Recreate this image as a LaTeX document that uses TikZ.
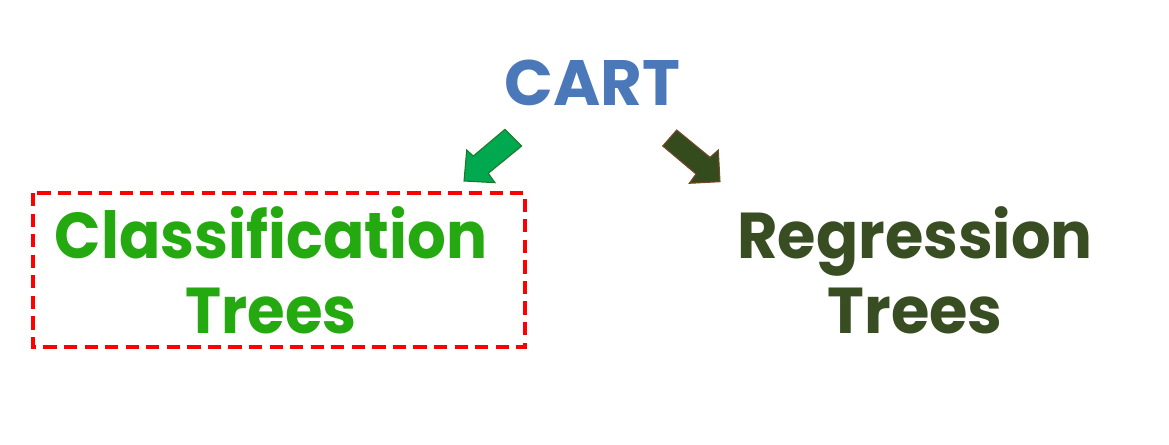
\documentclass[tikz,border=0pt]{standalone}
\usepackage{fontspec}
\setmainfont{Poppins}
\newfontfamily\branchfont{Poppins}[FakeStretch=0.94]
\newfontfamily\regfont{Poppins}[FakeStretch=0.96]
\definecolor{cartblue}{RGB}{74,120,184}
\definecolor{clsgreen}{RGB}{36,170,16}
\definecolor{arrgreen}{RGB}{0,168,80}
\definecolor{arrgreenedge}{RGB}{30,120,40}
\definecolor{regdark}{RGB}{56,77,34}
\definecolor{arrdark}{RGB}{52,75,30}
\definecolor{arrdarkedge}{RGB}{120,70,40}
\tikzset{
  x=0.02cm, y=-0.02cm,
  title/.style={font=\bfseries\fontsize{36.5}{40}\selectfont, text=cartblue, inner sep=0pt, anchor=base},
  branch/.style={font=\branchfont\bfseries\fontsize{36.9}{42.5}\selectfont, align=center, inner sep=0pt, anchor=base},
  blockarrow/.style={line width=0.6pt, line join=miter},
  selbox/.style={draw=red, line width=2pt, dash pattern=on 7.5pt off 4.2pt},
}
\begin{document}
\begin{tikzpicture}
\useasboundingbox (0,0) rectangle (1169,444);
\node[title] (cart) at (592.5,105) {CART};
\node[branch, text=clsgreen] (cls) at (271,333) {Classification\\Trees};
\node[branch, text=regdark, font=\regfont\bfseries\fontsize{36.9}{42.5}\selectfont] (reg) at (915,333) {Regression\\Trees};
\draw[selbox] (33,193) rectangle (525,347);
% green block arrow
\draw[blockarrow, fill=arrgreen, draw=arrgreenedge]
  (505,129.3) -- (521.7,146) -- (488.3,173.3) -- (495,182.7) -- (464,181)
  -- (466.7,150) -- (473.3,156) -- cycle;
% dark block arrow
\draw[blockarrow, fill=arrdark, draw=arrdarkedge]
  (676.7,130) -- (662.7,146) -- (696,174) -- (689.3,183.3) -- (720,181.7)
  -- (718.3,150) -- (710,157.3) -- cycle;
\end{tikzpicture}
\end{document}
